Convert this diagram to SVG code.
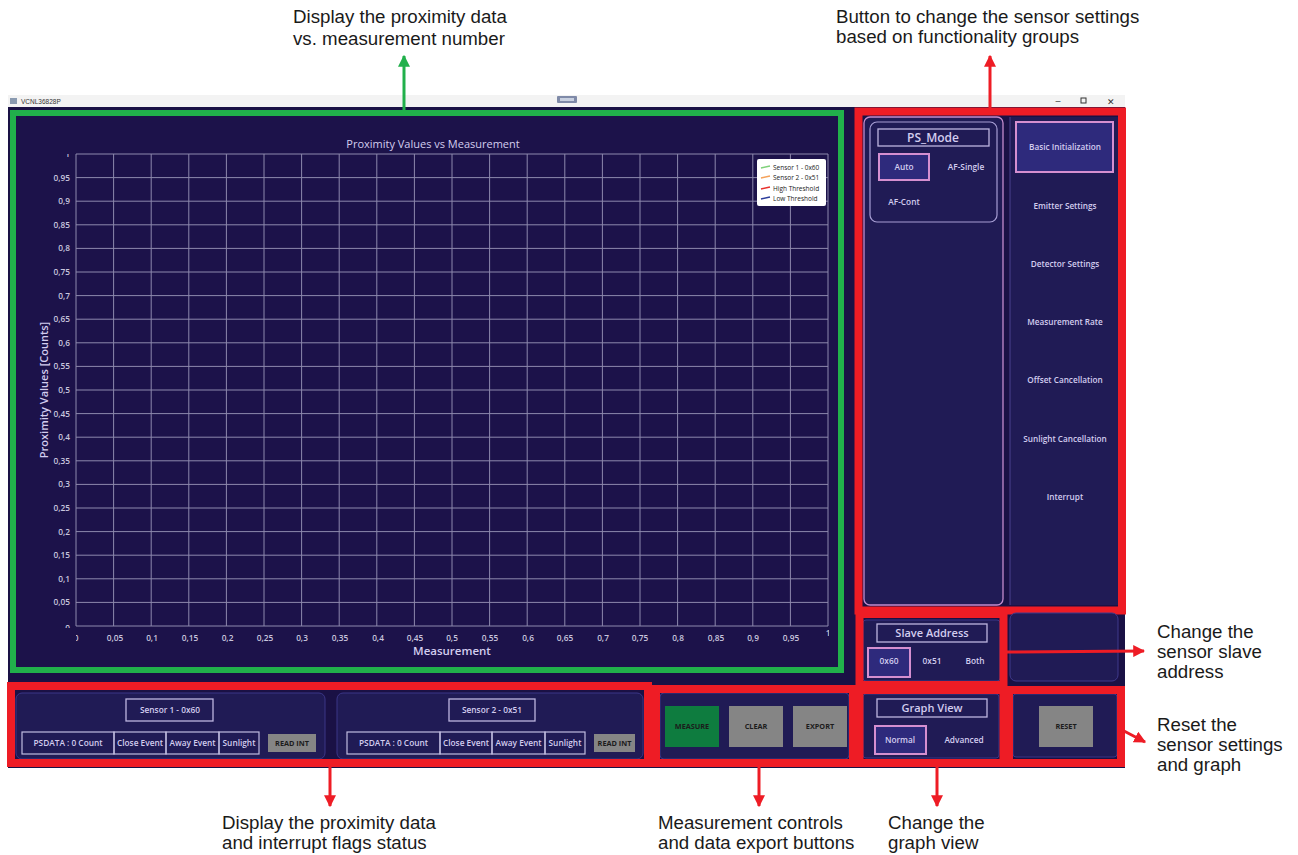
<svg xmlns="http://www.w3.org/2000/svg" width="1298" height="855" viewBox="0 0 1298 855">
<defs>
<style>
.ann{font-family:"Liberation Sans",Arial,sans-serif;font-size:18.7px;fill:#1a1a1a}
.ui{font-family:"Open Sans","Noto Sans",sans-serif;fill:#d3cdef;font-weight:600}
.s8{font-size:8.3px}
.s7{font-size:8.2px}
.tk{font-family:"Open Sans","Noto Sans",sans-serif;font-size:8.3px;fill:#c9c6de;font-weight:600}
.panel{fill:#201b55;stroke:#3b3687;stroke-width:1}
.tbox{fill:none;stroke:#bdb6e0;stroke-width:1.3}
.sel{fill:#2e2a7c;stroke:#d58fd0;stroke-width:2}
.gbtn{fill:#858585}
.btxt{font-family:"Open Sans","Noto Sans",sans-serif;font-size:7.3px;font-weight:bold;fill:#1c1c1c}
.red{fill:none;stroke:#ee1c25;stroke-width:8}
.redl{stroke:#ee1c25;stroke-width:3;fill:none}
.cell{fill:none;stroke:#c0bce0;stroke-width:1.2}
</style>
<marker id="ar" viewBox="0 0 10 10" refX="9" refY="5" markerWidth="4" markerHeight="4" orient="auto-start-reverse"><path d="M0,0L10,5L0,10z" fill="#ee1c25"/></marker>
<marker id="ag" viewBox="0 0 10 10" refX="9" refY="5" markerWidth="4" markerHeight="4" orient="auto-start-reverse"><path d="M0,0L10,5L0,10z" fill="#21b04b"/></marker>
<clipPath id="cy"><rect x="20" y="154" width="60" height="474"/></clipPath>
<clipPath id="cx"><rect x="76" y="628" width="753" height="20"/></clipPath>
</defs>
<rect width="1298" height="855" fill="#ffffff"/>

<g id="window">
<rect x="8" y="95" width="1117" height="12" fill="#f3f3f3"/>
<rect x="10" y="98" width="7" height="6" fill="#8a9ab0"/>
<text x="21" y="104" font-family="Liberation Sans,sans-serif" font-size="6.5" fill="#333">VCNL36828P</text>
<rect x="557" y="96" width="20" height="7" rx="1" fill="#7f8aa8"/>
<rect x="560" y="98" width="14" height="3" fill="#c8d0e0"/>
<text x="1058" y="104" font-family="Liberation Sans,sans-serif" font-size="9" fill="#333" text-anchor="middle">–</text>
<rect x="1081" y="98" width="5" height="5" fill="none" stroke="#333" stroke-width="1"/>
<text x="1111" y="104.5" font-family="Liberation Sans,sans-serif" font-size="9" fill="#333" text-anchor="middle">✕</text>
<rect x="8" y="107" width="1117" height="661" fill="#1a1145"/>
</g>

<g id="chart">
<rect x="13" y="113" width="828" height="557" fill="#1c124a" stroke="#21b04b" stroke-width="6"/>
<text x="433" y="148" class="ui" font-size="11" style="font-weight:normal" text-anchor="middle" fill="#e6e3f5">Proximity Values vs Measurement</text>
<path d="M76,154V626M113.6,154V626M151.2,154V626M188.8,154V626M226.4,154V626M264,154V626M301.6,154V626M339.2,154V626M376.8,154V626M414.4,154V626M452,154V626M489.6,154V626M527.2,154V626M564.8,154V626M602.4,154V626M640,154V626M677.6,154V626M715.2,154V626M752.8,154V626M790.4,154V626M828,154V626M76,154H828M76,177.6H828M76,201.2H828M76,224.8H828M76,248.4H828M76,272H828M76,295.6H828M76,319.2H828M76,342.8H828M76,366.4H828M76,390H828M76,413.6H828M76,437.2H828M76,460.8H828M76,484.4H828M76,508H828M76,531.6H828M76,555.2H828M76,578.8H828M76,602.4H828M76,626H828" stroke="#8d89ad" stroke-width="1" fill="none"/>
<g clip-path="url(#cy)" class="tk" text-anchor="end">
<text x="70" y="157">1</text><text x="70" y="180.6">0,95</text><text x="70" y="204.2">0,9</text><text x="70" y="227.8">0,85</text><text x="70" y="251.4">0,8</text><text x="70" y="275">0,75</text><text x="70" y="298.6">0,7</text><text x="70" y="322.2">0,65</text><text x="70" y="345.8">0,6</text><text x="70" y="369.4">0,55</text><text x="70" y="393">0,5</text><text x="70" y="416.6">0,45</text><text x="70" y="440.2">0,4</text><text x="70" y="463.8">0,35</text><text x="70" y="487.4">0,3</text><text x="70" y="511">0,25</text><text x="70" y="534.6">0,2</text><text x="70" y="558.2">0,15</text><text x="70" y="581.8">0,1</text><text x="70" y="605.4">0,05</text><text x="70" y="631">0</text>
</g>
<g clip-path="url(#cx)" class="tk" text-anchor="middle">
<text x="76" y="641">0</text><text x="115" y="641">0,05</text><text x="152" y="641">0,1</text><text x="190" y="641">0,15</text><text x="227.5" y="641">0,2</text><text x="265" y="641">0,25</text><text x="302" y="641">0,3</text><text x="340" y="641">0,35</text><text x="378" y="641">0,4</text><text x="415" y="641">0,45</text><text x="452" y="641">0,5</text><text x="490" y="641">0,55</text><text x="528" y="641">0,6</text><text x="565" y="641">0,65</text><text x="603" y="641">0,7</text><text x="640" y="641">0,75</text><text x="678" y="641">0,8</text><text x="716" y="641">0,85</text><text x="753" y="641">0,9</text><text x="791" y="641">0,95</text><text x="828" y="636">1</text>
</g>
<text x="452" y="655" class="ui" font-size="11.5" text-anchor="middle" fill="#e6e3f5">Measurement</text>
<text transform="translate(48,390) rotate(-90)" class="ui" font-size="11" text-anchor="middle" fill="#e6e3f5">Proximity Values [Counts]</text>
<g id="legend">
<rect x="757" y="159" width="69" height="47" rx="2" fill="#ffffff"/>
<path d="M761,168L770,166" stroke="#7fd17a" stroke-width="1.5"/>
<path d="M761,178L770,176" stroke="#f5a25a" stroke-width="1.5"/>
<path d="M761,189L770,187" stroke="#e8312e" stroke-width="1.5"/>
<path d="M761,199L770,197" stroke="#2c3e9c" stroke-width="1.5"/>
<g font-family="Open Sans,Noto Sans,sans-serif" font-size="6.5" fill="#222">
<text x="773" y="170">Sensor 1 - 0x60</text>
<text x="773" y="180">Sensor 2 - 0x51</text>
<text x="773" y="191">High Threshold</text>
<text x="773" y="201">Low Threshold</text>
</g>
</g>
</g>

<g id="settings-panel">
<rect x="864" y="117" width="139" height="488" rx="6" fill="#201b55" stroke="#c48ccc" stroke-width="1.3"/>
<rect x="870" y="122" width="127" height="100" rx="7" fill="none" stroke="#a79ed4" stroke-width="1.2"/>
<rect x="878" y="129" width="111" height="17" class="tbox"/>
<text x="933" y="142" class="ui" font-size="12" text-anchor="middle" fill="#e4e0f6">PS_Mode</text>
<rect x="879" y="154" width="50" height="26" class="sel"/>
<text x="904" y="170" class="ui s8" text-anchor="middle">Auto</text>
<text x="966" y="170" class="ui s8" text-anchor="middle">AF-Single</text>
<text x="904" y="205" class="ui s8" text-anchor="middle">AF-Cont</text>
<rect x="1010" y="117" width="108" height="488" fill="#201b55"/>
<line x1="1010" y1="117" x2="1010" y2="605" stroke="#4a438f" stroke-width="1"/>
<rect x="1016" y="122" width="97" height="50" class="sel"/>
<g class="ui s7" text-anchor="middle">
<text x="1065" y="150">Basic Initialization</text>
<text x="1065" y="209">Emitter Settings</text>
<text x="1065" y="267">Detector Settings</text>
<text x="1065" y="325">Measurement Rate</text>
<text x="1065" y="383">Offset Cancellation</text>
<text x="1065" y="442">Sunlight Cancellation</text>
<text x="1065" y="500">Interrupt</text>
</g>
<rect x="858.5" y="111.5" width="263.5" height="499" class="red"/>
</g>

<g id="slave-address">
<rect x="1010" y="613" width="108" height="68" rx="6" fill="#201b55" stroke="#3f3a8c" stroke-width="1"/>
<rect x="863" y="620" width="137" height="61" rx="3" class="panel"/>
<rect x="877" y="624" width="110" height="18" class="tbox"/>
<text x="932" y="637" class="ui" font-size="11" text-anchor="middle" fill="#e4e0f6">Slave Address</text>
<rect x="868" y="648" width="42" height="29" class="sel"/>
<text x="889" y="664" class="ui s8" text-anchor="middle">0x60</text>
<text x="932" y="664" class="ui s8" text-anchor="middle">0x51</text>
<text x="975" y="664" class="ui s8" text-anchor="middle">Both</text>
<rect x="859.5" y="614" width="144" height="71" class="red"/>
</g>

<g id="graph-view">
<rect x="863" y="694" width="136" height="64" rx="3" class="panel"/>
<rect x="877" y="699" width="110" height="18" class="tbox"/>
<text x="932" y="712" class="ui" font-size="11" text-anchor="middle" fill="#e4e0f6">Graph View</text>
<rect x="875" y="726" width="51" height="28" class="sel"/>
<text x="900" y="743" class="ui s8" text-anchor="middle">Normal</text>
<text x="964" y="743" class="ui s8" text-anchor="middle">Advanced</text>
<rect x="859.5" y="690" width="144" height="73" class="red"/>
</g>

<g id="reset">
<rect x="1013" y="694" width="104" height="63" rx="3" class="panel"/>
<rect x="1039" y="706" width="54" height="41" class="gbtn"/>
<text x="1066" y="729" class="btxt" text-anchor="middle">RESET</text>
<rect x="1009" y="690" width="112" height="73" class="red"/>
</g>

<g id="sensor-status">
<rect x="16" y="693" width="309" height="66" rx="6" class="panel"/>
<rect x="126" y="699" width="87" height="22" class="tbox"/>
<text x="170" y="713" class="ui s8" text-anchor="middle">Sensor 1 - 0x60</text>
<rect x="22" y="732" width="92" height="22" class="cell"/><rect x="114" y="732" width="52" height="22" class="cell"/><rect x="166" y="732" width="53" height="22" class="cell"/><rect x="219" y="732" width="40" height="22" class="cell"/>
<g class="ui s8" text-anchor="middle">
<text x="68" y="746">PSDATA : 0 Count</text><text x="140" y="746">Close Event</text><text x="192.5" y="746">Away Event</text><text x="239" y="746">Sunlight</text>
</g>
<rect x="268" y="734" width="48" height="18" class="gbtn"/>
<text x="292" y="746" class="btxt" text-anchor="middle">READ INT</text>

<rect x="337" y="693" width="306" height="66" rx="6" class="panel"/>
<rect x="449" y="699" width="86" height="22" class="tbox"/>
<text x="492" y="713" class="ui s8" text-anchor="middle">Sensor 2 - 0x51</text>
<rect x="347" y="732" width="93" height="22" class="cell"/><rect x="440" y="732" width="52" height="22" class="cell"/><rect x="492" y="732" width="53" height="22" class="cell"/><rect x="545" y="732" width="40" height="22" class="cell"/>
<g class="ui s8" text-anchor="middle">
<text x="393.5" y="746">PSDATA : 0 Count</text><text x="466" y="746">Close Event</text><text x="518.5" y="746">Away Event</text><text x="565" y="746">Sunlight</text>
</g>
<rect x="594" y="734" width="41" height="18" class="gbtn"/>
<text x="614.5" y="746" class="btxt" text-anchor="middle">READ INT</text>
<rect x="11" y="686" width="637" height="77" class="red"/>
</g>

<g id="measurement-controls">
<rect x="660" y="693" width="189" height="66" rx="4" class="panel"/>
<rect x="665" y="706" width="54" height="41" fill="#0e7c3f"/>
<text x="692" y="729" class="btxt" text-anchor="middle">MEASURE</text>
<rect x="729" y="706" width="54" height="41" class="gbtn"/>
<text x="756" y="729" class="btxt" text-anchor="middle">CLEAR</text>
<rect x="793" y="706" width="54" height="41" class="gbtn"/>
<text x="820" y="729" class="btxt" text-anchor="middle">EXPORT</text>
<rect x="656" y="689" width="197" height="74" class="red"/>
</g>

<g id="connectors">
<line x1="404" y1="110" x2="404" y2="56" stroke="#21b04b" stroke-width="3" marker-end="url(#ag)"/>
<line x1="990" y1="108" x2="990" y2="56" class="redl" marker-end="url(#ar)"/>
<line x1="1007" y1="652" x2="1144" y2="651" class="redl" marker-end="url(#ar)"/>
<line x1="1124" y1="731" x2="1145" y2="742" class="redl" marker-end="url(#ar)"/>
<line x1="330" y1="767" x2="330" y2="806" class="redl" marker-end="url(#ar)"/>
<line x1="759" y1="767" x2="759" y2="806" class="redl" marker-end="url(#ar)"/>
<line x1="937" y1="767" x2="937" y2="806" class="redl" marker-end="url(#ar)"/>
</g>

<g id="annotations" class="ann">
<text x="293" y="23">Display the proximity data</text>
<text x="293" y="45">vs. measurement number</text>
<text x="836" y="23">Button to change the sensor settings</text>
<text x="836" y="43">based on functionality groups</text>
<text x="1157" y="638">Change the</text>
<text x="1157" y="658">sensor slave</text>
<text x="1157" y="678">address</text>
<text x="1157" y="731">Reset the</text>
<text x="1157" y="751">sensor settings</text>
<text x="1157" y="771">and graph</text>
<text x="222" y="829">Display the proximity data</text>
<text x="222" y="849">and interrupt flags status</text>
<text x="658" y="829">Measurement controls</text>
<text x="658" y="849">and data export buttons</text>
<text x="888" y="829">Change the</text>
<text x="888" y="849">graph view</text>
</g>
</svg>
